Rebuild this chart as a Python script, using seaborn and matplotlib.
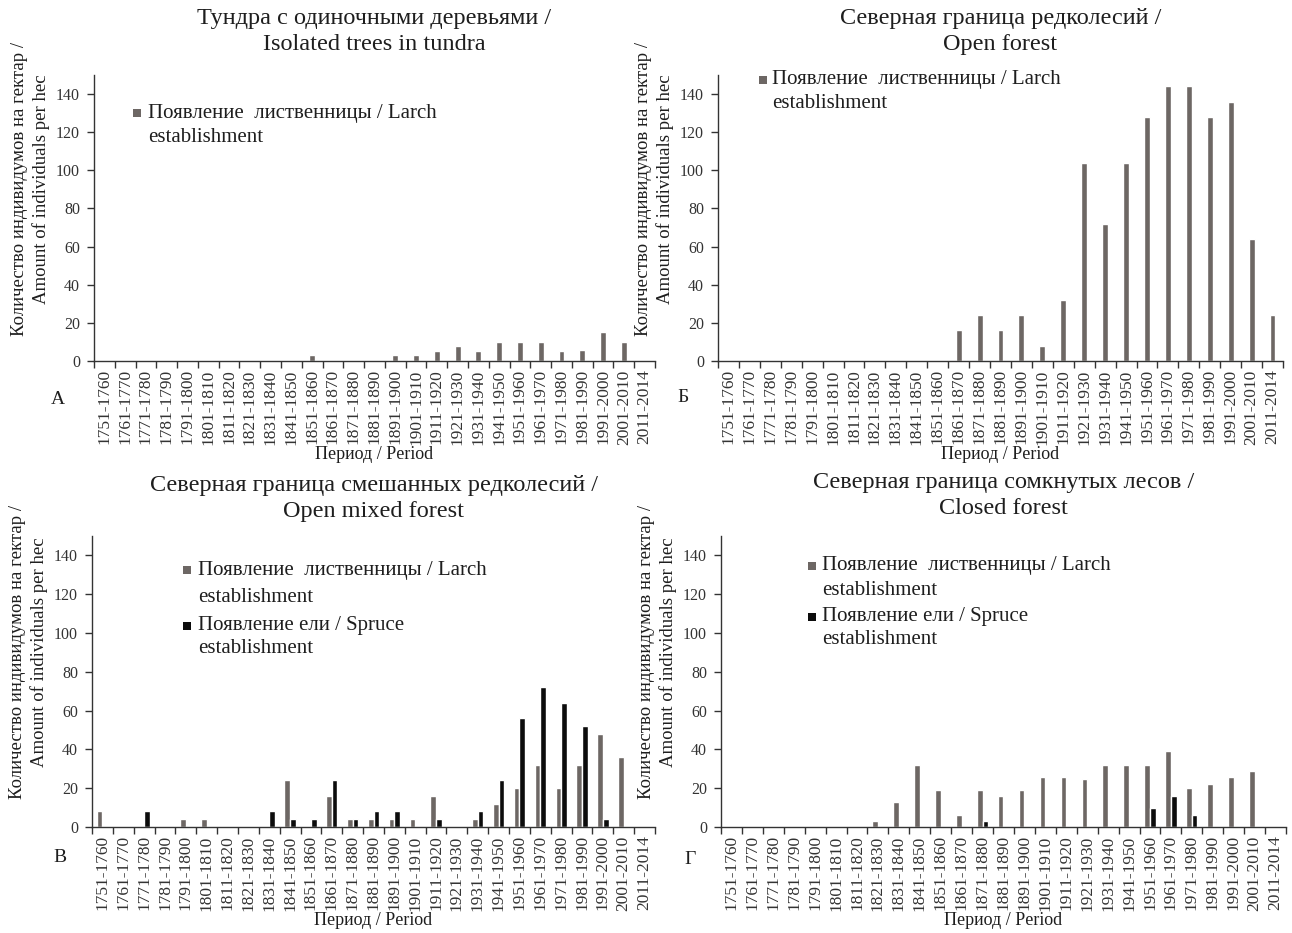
import pandas as pd
import matplotlib
matplotlib.use("Agg")
import matplotlib.pyplot as plt
from matplotlib.patches import Rectangle
import seaborn as sns

# periods on the x axis
periods = ['1751-1760', '1761-1770', '1771-1780', '1781-1790', '1791-1800', '1801-1810',
           '1811-1820', '1821-1830', '1831-1840', '1841-1850', '1851-1860', '1861-1870',
           '1871-1880', '1881-1890', '1891-1900', '1901-1910', '1911-1920', '1921-1930',
           '1931-1940', '1941-1950', '1951-1960', '1961-1970', '1971-1980', '1981-1990',
           '1991-2000', '2001-2010', '2011-2014']

# А - tundra with isolated trees
larch_a = [0, 0, 0, 0, 0, 0, 0, 0, 0, 0, 3, 0, 0, 0, 3, 3, 5, 8, 5, 10, 10, 10, 5, 6, 15, 10, 0]
# Б - open forest
larch_b = [0, 0, 0, 0, 0, 0, 0, 0, 0, 0, 0, 16, 24, 16, 24, 8, 32, 104, 72, 104, 128, 144, 144, 128, 136, 64, 24]
# В - open mixed forest
larch_v = [8, 0, 0, 0, 4, 4, 0, 0, 0, 24, 0, 16, 4, 4, 4, 4, 16, 0, 4, 12, 20, 32, 20, 32, 48, 36, 0]
spruce_v = [0, 0, 8, 0, 0, 0, 0, 0, 8, 4, 4, 24, 4, 8, 8, 0, 4, 0, 8, 24, 56, 72, 64, 52, 4, 0, 0]
# Г - closed forest
larch_g = [0, 0, 0, 0, 0, 0, 0, 3, 13, 32, 19, 6, 19, 16, 19, 26, 26, 25, 32, 32, 32, 39, 20, 22, 26, 29, 0]
spruce_g = [0, 0, 0, 0, 0, 0, 0, 0, 0, 0, 0, 0, 3, 0, 0, 0, 0, 0, 0, 0, 10, 16, 6, 0, 0, 0, 0]

LARCH = '#6d6764'
SPRUCE = '#0c0c0c'
TXT = '#1e1e1e'

larch_lbl = ('Появление  лиственницы / Larch', 'establishment')
spruce_lbl = ('Появление ели / Spruce', 'establishment')
ylab = 'Количество индивидумов на гектар /\nAmount of individuals per hec'

sns.set_theme(style='white')
plt.rcParams['font.family'] = ['Liberation Serif', 'DejaVu Serif']
plt.rcParams['text.color'] = TXT
plt.rcParams['axes.labelcolor'] = TXT
plt.rcParams['xtick.color'] = '#333333'
plt.rcParams['ytick.color'] = '#333333'

W, H = 1292, 933
fig = plt.figure(figsize=(W / 100, H / 100), dpi=100)


def px_axes(left, top, right, bottom):
    return fig.add_axes([left / W, 1 - bottom / H, (right - left) / W, (bottom - top) / H])


def style_axis(ax, title, title_pad):
    ax.set_ylim(0, 150)
    ax.set_xlim(-0.5, len(periods) - 0.5)
    ax.set_yticks(range(0, 141, 20))
    ax.tick_params(axis='y', direction='out', length=5, width=1, labelsize=11.5, pad=5,
                   left=True)
    ax.set_xticks(range(len(periods)))
    ax.set_xticklabels(periods, rotation=90, fontsize=12.5)
    ax.tick_params(axis='x', which='major', length=0, pad=6)
    ax.set_xticks([i - 0.5 for i in range(len(periods) + 1)], minor=True)
    ax.tick_params(axis='x', which='minor', direction='out', length=5, width=1, bottom=True)
    for s in ['top', 'right']:
        ax.spines[s].set_visible(False)
    for s in ['left', 'bottom']:
        ax.spines[s].set_color('#333333')
        ax.spines[s].set_linewidth(1)
    ax.set_title(title, fontsize=17.5, pad=title_pad, linespacing=1.3)
    ax.set_xlabel('Период / Period', fontsize=13, labelpad=1)
    ax.set_ylabel(ylab, fontsize=13.5, linespacing=1.3)
    wpx = ax.get_position().width * W
    ax.yaxis.set_label_coords(-44 / wpx, 0.6)


def legend_item(ax, pos, color, lines):
    # pos: marker x, text x, first line y, second line y (axes fractions)
    mx, tx, y1, y2 = pos
    bb = ax.get_position()
    sw, sh = 8 / (bb.width * W), 8 / (bb.height * H)
    ax.add_patch(Rectangle((mx - sw / 2, y1 - sh / 2), sw, sh, transform=ax.transAxes,
                           facecolor=color, edgecolor='none', clip_on=False))
    ax.text(tx, y1, lines[0], transform=ax.transAxes, fontsize=15, va='center', ha='left')
    ax.text(tx, y2, lines[1], transform=ax.transAxes, fontsize=15, va='center', ha='left')


# А
ax = px_axes(94, 75, 655, 361)
sns.barplot(x=periods, y=larch_a, color=LARCH, width=0.28, saturation=1, ax=ax)
style_axis(ax, 'Тундра с одиночными деревьями /\nIsolated trees in tundra', 18)
legend_item(ax, (0.0766, 0.0963, 0.867, 0.783), LARCH, larch_lbl)

# Б
ax = px_axes(718, 75, 1283, 361)
sns.barplot(x=periods, y=larch_b, color=LARCH, width=0.28, saturation=1, ax=ax)
style_axis(ax, 'Северная граница редколесий /\nOpen forest', 18)
legend_item(ax, (0.0796, 0.0956, 0.983, 0.899), LARCH, larch_lbl)

# В
df_v = pd.DataFrame({'period': periods * 2,
                     'value': larch_v + spruce_v,
                     'kind': ['larch'] * len(periods) + ['spruce'] * len(periods)})
ax = px_axes(92, 536, 655, 827)
sns.barplot(data=df_v, x='period', y='value', hue='kind', palette=[LARCH, SPRUCE],
            width=0.54, gap=0, saturation=1, legend=False, ax=ax)
style_axis(ax, 'Северная граница смешанных редколесий /\nOpen mixed forest', 14)
legend_item(ax, (0.169, 0.188, 0.883, 0.790), LARCH, larch_lbl)
legend_item(ax, (0.169, 0.188, 0.691, 0.615), SPRUCE, spruce_lbl)

# Г
df_g = pd.DataFrame({'period': periods * 2,
                     'value': larch_g + spruce_g,
                     'kind': ['larch'] * len(periods) + ['spruce'] * len(periods)})
ax = px_axes(721, 536, 1286, 827)
sns.barplot(data=df_g, x='period', y='value', hue='kind', palette=[LARCH, SPRUCE],
            width=0.54, gap=0, saturation=1, legend=False, ax=ax)
style_axis(ax, 'Северная граница сомкнутых лесов /\nClosed forest', 16)
legend_item(ax, (0.161, 0.179, 0.897, 0.814), LARCH, larch_lbl)
legend_item(ax, (0.161, 0.179, 0.722, 0.643), SPRUCE, spruce_lbl)

# panel letters
for x, y, t in [(58, 400, 'А'), (683, 398, 'Б'), (60, 858, 'В'), (690, 860, 'Г')]:
    fig.text(x / W, 1 - y / H, t, fontsize=14, color=TXT, ha='center', va='center')

fig.savefig('out.png', dpi=100, facecolor='white')
